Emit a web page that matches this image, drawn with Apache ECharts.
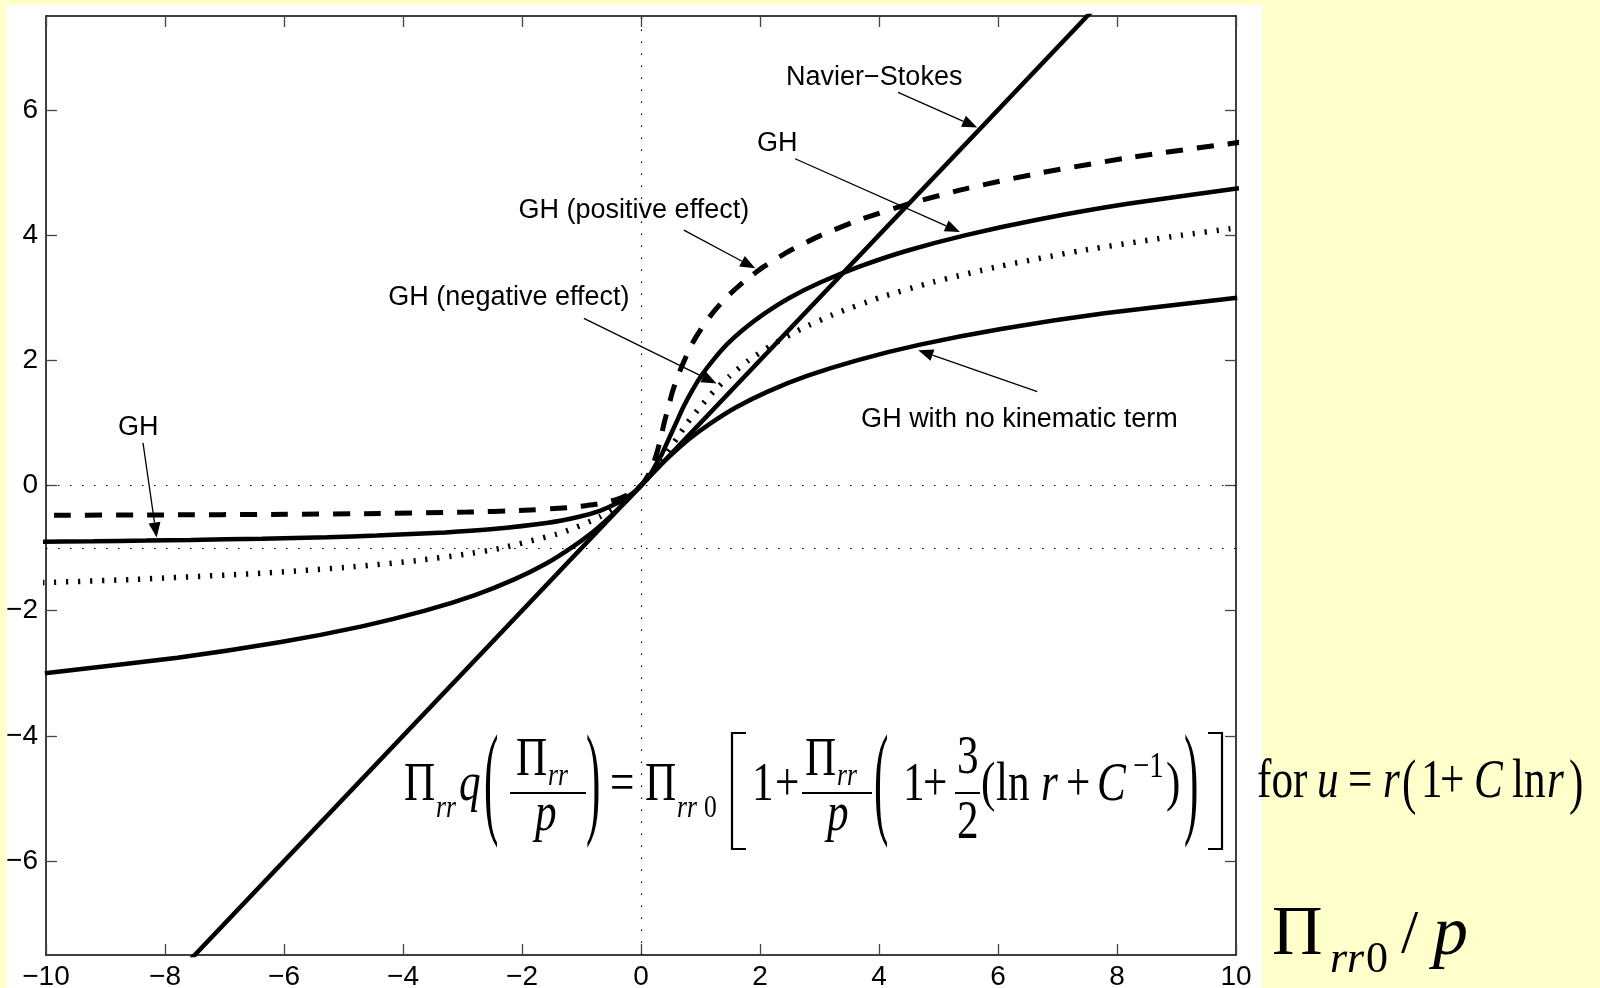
<!DOCTYPE html>
<html>
<head>
<meta charset="utf-8">
<script src="https://cdn.jsdelivr.net/npm/echarts@6.0.0/dist/echarts.min.js"></script>
<style>
html, body { margin: 0; padding: 0; background: #ffffcc; }
#chart { width: 1600px; height: 988px; }
</style>
</head>
<body>
<div id="chart"></div>
<script>
// y axis only labels the even values inside [-7.5, 7.5]
var yTickValues = [-6, -4, -2, 0, 2, 4, 6];

// Navier-Stokes
var nsX = [-10, 10];
var nsY = [-10, 10];

// GH (solid)
var ghX = [-10.27, -9.20, -8.32, -7.57, -6.37, -5.27, -4.44, -3.29, -2.53, -1.59, -1.04, -0.68, -0.44, -0.25, -0.11, 0,
  0.09, 0.17, 0.23, 0.29, 0.35, 0.47, 0.59, 0.71, 0.85, 1.01, 1.21, 1.44, 1.73, 2.08, 2.50, 3.03, 3.68, 4.47, 5.46, 6.68, 8.18, 10.05];
var ghY = [-0.9, -0.89, -0.88, -0.87, -0.85, -0.825, -0.8, -0.75, -0.7, -0.6, -0.5, -0.4, -0.3, -0.2, -0.1, 0,
  0.1, 0.2, 0.3, 0.4, 0.5, 0.75, 1, 1.25, 1.5, 1.75, 2, 2.25, 2.5, 2.75, 3, 3.25, 3.5, 3.75, 4, 4.25, 4.5, 4.75];

// GH (positive effect) - dashed
var posX = [-12.47, -9.86, -8.13, -5.96, -4.65, -2.92, -2.05, -1.19, -0.76, -0.51, -0.34, -0.13, 0,
  0.08, 0.17, 0.26, 0.33, 0.39, 0.46, 0.53, 0.62, 0.73, 0.85, 1.01, 1.20, 1.43, 1.72, 2.07, 2.50, 3.03, 3.69, 4.50, 5.50, 6.75, 8.29, 10.20];
var posY = [-0.48, -0.475, -0.47, -0.46, -0.45, -0.425, -0.4, -0.35, -0.3, -0.25, -0.2, -0.1, 0,
  0.1, 0.25, 0.5, 0.75, 1, 1.25, 1.5, 1.75, 2, 2.25, 2.5, 2.75, 3, 3.25, 3.5, 3.75, 4, 4.25, 4.5, 4.75, 5, 5.25, 5.5];

// GH (negative effect) - dotted
var negX = [-11.88, -10.00, -8.52, -6.35, -4.85, -3.77, -2.97, -2.35, -1.32, -0.69, -0.29, 0,
  0.22, 0.42, 0.60, 0.78, 0.99, 1.22, 1.49, 1.81, 2.21, 2.69, 3.28, 4.01, 4.91, 6.02, 7.39, 9.10, 9.89, 10.31];
var negY = [-1.6, -1.55, -1.5, -1.4, -1.3, -1.2, -1.1, -1, -0.75, -0.5, -0.25, 0,
  0.25, 0.5, 0.75, 1, 1.25, 1.5, 1.75, 2, 2.25, 2.5, 2.75, 3, 3.25, 3.5, 3.75, 4, 4.1, 4.15];

// GH with no kinematic term
var noKinX = [-10.02, -7.79, -6.05, -4.69, -3.63, -2.79, -2.13, -1.60, -1.18, -0.82, -0.52, -0.25, 0,
  0.25, 0.52, 0.82, 1.18, 1.60, 2.13, 2.79, 3.63, 4.69, 6.05, 7.79, 10.02];
var noKinY = [-3, -2.75, -2.5, -2.25, -2, -1.75, -1.5, -1.25, -1, -0.75, -0.5, -0.25, 0,
  0.25, 0.5, 0.75, 1, 1.25, 1.5, 1.75, 2, 2.25, 2.5, 2.75, 3];

// annotations (data coordinates)
var labelText = ['Navier\u2212Stokes', 'GH', 'GH (positive effect)', 'GH (negative effect)', 'GH', 'GH with no kinematic term'];
var labelX = [3.92, 2.29, -0.12, -2.22, -8.45, 6.36];
var labelY = [6.52, 5.47, 4.39, 3.01, 0.93, 1.05];
var arrowFromX = [4.32, 2.59, 0.72, -0.96, -8.37, 6.66];
var arrowFromY = [6.28, 5.22, 4.08, 2.67, 0.68, 1.50];
var arrowToX = [5.65, 5.36, 1.92, 1.27, -8.14, 4.66];
var arrowToY = [5.72, 4.05, 3.47, 1.63, -0.83, 2.16];

function zip(xs, ys) {
  var out = [];
  for (var i = 0; i < xs.length; i++) {
    out.push([xs[i], ys[i]]);
  }
  return out;
}

var SANS = '"Liberation Sans", Arial, Helvetica, sans-serif';
var SERIF = '"Liberation Serif", "Times New Roman", serif';

function minus(v) {
  return String(v).replace('-', '\u2212');
}

// formula text pieces: text, left x, baseline y, size, italic, horizontal squeeze
var pieces = [
  ['\u03A0', 404, 804, 54, 0, 0.8],
  ['rr', 436, 819, 32, 1, 0.8],
  ['q', 459, 804, 54, 1, 0.8],
  ['\u03A0', 516, 779, 54, 0, 0.8],
  ['rr', 548, 787, 32, 1, 0.8],
  ['p', 535, 834, 54, 1, 0.8],
  ['=', 610, 804, 54, 0, 0.8],
  ['\u03A0', 645, 804, 54, 0, 0.8],
  ['rr', 677, 819, 32, 1, 0.8],
  ['0', 704, 819, 32, 0, 0.8],
  ['1', 752, 804, 54, 0, 0.8],
  ['+', 775, 804, 54, 0, 0.8],
  ['\u03A0', 805, 779, 54, 0, 0.8],
  ['rr', 837, 787, 32, 1, 0.8],
  ['p', 827, 834, 54, 1, 0.8],
  ['1', 903, 804, 54, 0, 0.8],
  ['+', 923, 804, 54, 0, 0.8],
  ['3', 957, 777, 54, 0, 0.8],
  ['2', 957, 842, 54, 0, 0.8],
  ['(', 981, 804, 54, 0, 0.8],
  ['ln', 996, 804, 54, 0, 0.8],
  ['r', 1041, 804, 54, 1, 0.8],
  ['+', 1066, 804, 54, 0, 0.8],
  ['C', 1097, 804, 54, 1, 0.8],
  ['\u22121', 1133, 780, 36, 0, 0.8],
  [')', 1166, 804, 54, 0, 0.8],
  ['for', 1257, 801, 54, 0, 0.8],
  ['u', 1317, 801, 54, 1, 0.8],
  ['=', 1348, 801, 54, 0, 0.8],
  ['r', 1383, 801, 54, 1, 0.8],
  ['1', 1421, 801, 54, 0, 0.8],
  ['+', 1440, 801, 54, 0, 0.8],
  ['C', 1474, 801, 54, 1, 0.8],
  ['ln', 1512, 801, 54, 0, 0.8],
  ['r', 1547, 801, 54, 1, 0.8],
  ['\u03A0', 1272, 959, 70, 0, 1],
  ['rr', 1330, 975, 44, 1, 1],
  ['0', 1366, 975, 44, 0, 1],
  ['/', 1401, 957, 62, 0, 1],
  ['p', 1433, 959, 70, 1, 1]
];
// stretched parentheses: char, left x, centre y, vertical stretch
var parens = [
  ['(', 484, 791, 2.3], [')', 586, 791, 2.3],
  ['(', 874, 791, 2.3], [')', 1184, 791, 2.3],
  ['(', 1402, 787, 1.12], [')', 1569, 787, 1.12]
];
// square brackets: left x, right x, top y, bottom y
var brackets = [[732, 746, 733, 849], [1208, 1222, 733, 849]];
// fraction bars: x1, x2, y
var bars = [[510, 586, 793], [802, 872, 793], [955, 980, 793]];

var graphics = [{
  type: 'rect', z: -100,
  shape: { x: 7, y: 5, width: 1255, height: 990 },
  style: { fill: '#ffffff' }
}];
pieces.forEach(function (p) {
  graphics.push({
    type: 'text', z: 100,
    x: p[1], y: p[2] - 0.3375 * p[3],
    scaleX: p[5],
    style: {
      text: p[0],
      font: (p[4] ? 'italic ' : '') + p[3] + 'px ' + SERIF,
      fill: '#000', textAlign: 'left', textVerticalAlign: 'middle', verticalAlign: 'middle'
    }
  });
});
parens.forEach(function (d) {
  graphics.push({
    type: 'text', z: 100,
    x: d[1], y: d[2] - 1.2 * d[3],
    scaleX: 0.8, scaleY: d[3],
    style: {
      text: d[0], font: '54px ' + SERIF,
      fill: '#000', textAlign: 'left', textVerticalAlign: 'middle', verticalAlign: 'middle'
    }
  });
});
brackets.forEach(function (b, i) {
  var stem = i === 0 ? b[0] : b[1];
  var tip = i === 0 ? b[1] : b[0];
  graphics.push({
    type: 'polyline', z: 100,
    shape: { points: [[tip, b[2]], [stem, b[2]], [stem, b[3]], [tip, b[3]]] },
    style: { stroke: '#000', lineWidth: 2.2, fill: null }
  });
});
bars.forEach(function (b) {
  graphics.push({
    type: 'line', z: 100,
    shape: { x1: b[0], y1: b[2], x2: b[1], y2: b[2] },
    style: { stroke: '#000', lineWidth: 2 }
  });
});

function renderArrow(params, api) {
  var p0 = api.coord([api.value(0), api.value(1)]);
  var p1 = api.coord([api.value(2), api.value(3)]);
  var dx = p1[0] - p0[0], dy = p1[1] - p0[1];
  var len = Math.sqrt(dx * dx + dy * dy);
  var ux = dx / len, uy = dy / len;
  var hl = 15, hw = 6;
  var bx = p1[0] - ux * hl, by = p1[1] - uy * hl;
  return {
    type: 'group',
    children: [
      { type: 'line', shape: { x1: p0[0], y1: p0[1], x2: bx, y2: by }, style: { stroke: '#000', lineWidth: 1.3 } },
      { type: 'polygon', shape: { points: [[p1[0], p1[1]], [bx - uy * hw, by + ux * hw], [bx + uy * hw, by - ux * hw]] }, style: { fill: '#000' } }
    ]
  };
}

function renderLabel(params, api) {
  var p = api.coord([api.value(0), api.value(1)]);
  return {
    type: 'text', x: p[0], y: p[1],
    style: {
      text: labelText[params.dataIndex], font: '27px ' + SANS, fill: '#000',
      textAlign: 'center', textVerticalAlign: 'middle', verticalAlign: 'middle'
    }
  };
}

var arrowData = [];
for (var i = 0; i < arrowFromX.length; i++) {
  arrowData.push([arrowFromX[i], arrowFromY[i], arrowToX[i], arrowToY[i]]);
}

var axisLineStyle = { show: true, onZero: false, lineStyle: { color: '#000', width: 1.5 } };
var tickStyle = { show: true, inside: true, length: 11, lineStyle: { color: '#444', width: 1.3 } };
var labelStyle = { fontSize: 28, fontFamily: SANS, color: '#000', margin: 8, formatter: minus };

function curve(name, xs, ys, lineStyle) {
  return {
    name: name, type: 'line', data: zip(xs, ys), symbol: 'none', smooth: 0.2,
    lineStyle: lineStyle, silent: true, z: 3
  };
}

var chart = echarts.init(document.getElementById('chart'), null, { renderer: 'canvas' });
var option = {
  backgroundColor: '#ffffcc',
  animation: false,
  grid: { left: 46, top: 16, width: 1190, height: 939, containLabel: false, outerBoundsMode: 'none' },
  xAxis: [
    { type: 'value', min: -10, max: 10, interval: 2, position: 'bottom',
      axisLine: axisLineStyle, axisTick: tickStyle, axisLabel: labelStyle, splitLine: { show: false } },
    { type: 'value', min: -10, max: 10, interval: 2, position: 'top',
      axisLine: axisLineStyle, axisTick: tickStyle, axisLabel: { show: false }, splitLine: { show: false } }
  ],
  yAxis: [
    { type: 'value', min: -7.5, max: 7.5, position: 'left',
      axisLine: axisLineStyle,
      axisTick: Object.assign({ customValues: yTickValues }, tickStyle),
      axisLabel: Object.assign({ customValues: yTickValues }, labelStyle),
      splitLine: { show: false } },
    { type: 'value', min: -7.5, max: 7.5, position: 'right',
      axisLine: axisLineStyle,
      axisTick: Object.assign({ customValues: yTickValues }, tickStyle),
      axisLabel: { show: false }, splitLine: { show: false } }
  ],
  graphic: graphics,
  series: [
    {
      name: 'guides', type: 'line', data: [], silent: true,
      markLine: {
        silent: true, symbol: 'none', label: { show: false },
        lineStyle: { color: '#000', width: 1.2, type: [1.5, 10.5] },
        data: [{ yAxis: 0 }, { yAxis: -1 }, { xAxis: 0 }]
      }
    },
    curve('Navier-Stokes', nsX, nsY, { color: '#000', width: 4.5 }),
    curve('GH', ghX, ghY, { color: '#000', width: 4.5 }),
    curve('GH (positive effect)', posX, posY, { color: '#000', width: 5, type: [17, 14], cap: 'butt' }),
    curve('GH (negative effect)', negX, negY, { color: '#000', width: 5.5, type: [2.2, 9.8], cap: 'butt' }),
    curve('GH with no kinematic term', noKinX, noKinY, { color: '#000', width: 4.5 }),
    {
      name: 'arrows', type: 'custom', renderItem: renderArrow, data: arrowData,
      encode: { x: [0, 2], y: [1, 3] }, silent: true, clip: false, z: 5
    },
    {
      name: 'labels', type: 'custom', renderItem: renderLabel, data: zip(labelX, labelY),
      encode: { x: 0, y: 1 }, silent: true, clip: false, z: 5
    }
  ]
};
chart.setOption(option);
</script>
</body>
</html>
